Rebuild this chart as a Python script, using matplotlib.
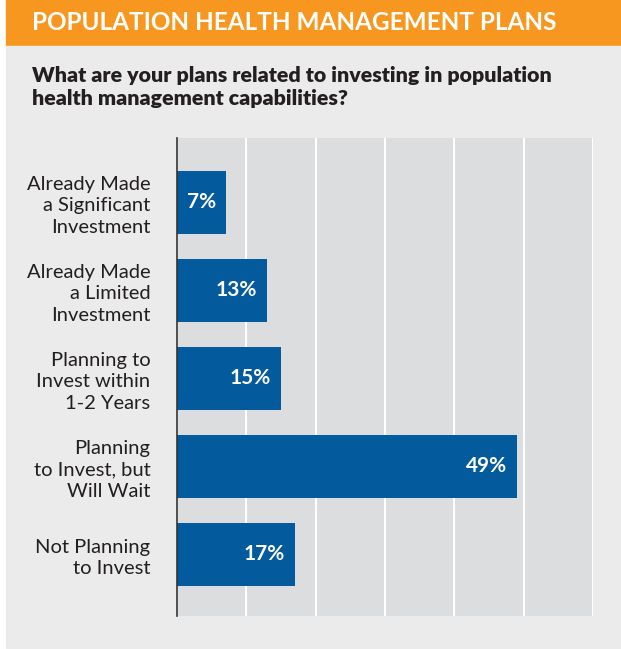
import matplotlib
matplotlib.use("Agg")
import matplotlib.pyplot as plt
from matplotlib.patches import Rectangle

categories = [
    "Already Made\na Significant\nInvestment",
    "Already Made\na Limited\nInvestment",
    "Planning to\nInvest within\n1-2 Years",
    "Planning\nto Invest, but\nWill Wait",
    "Not Planning\nto Invest",
]
values = [7, 13, 15, 49, 17]
value_labels = ["7%", "13%", "15%", "49%", "17%"]

header = "POPULATION HEALTH MANAGEMENT PLANS"
question = "What are your plans related to investing in population\nhealth management capabilities?"

orange = "#F7971F"
panel = "#EBEBEB"
plot_bg = "#DCDDDF"
blue = "#035A9C"

W, H = 621, 649
fig = plt.figure(figsize=(W / 100, H / 100), dpi=100)
fig.patch.set_facecolor("white")

# figure pixel box -> fractions
def px(x0, y0, x1, y1):
    return (x0 / W, 1 - y1 / H, (x1 - x0) / W, (y1 - y0) / H)

l, b, w, h = px(6, 0, 621, 46)
fig.patches.append(Rectangle((l, b), w, h, transform=fig.transFigure, color=orange, zorder=-5))
l, b, w, h = px(6, 46, 621, 648)
fig.patches.append(Rectangle((l, b), w, h, transform=fig.transFigure, color=panel, zorder=-5))

fig.text(32 / W, 1 - 23 / H, header, color="white", fontsize=17.5, fontweight="bold",
         family="Lato", va="center", ha="left")
fig.text(32 / W, 1 - 87 / H, question, color="#231F20", fontsize=15.4, fontweight="heavy",
         family="Lato", va="center", ha="left", linespacing=1.2)

ax = fig.add_axes(px(177, 138, 593, 616))
ax.set_zorder(2)
ax.set_facecolor(plot_bg)
ypos = list(range(len(categories)))
ax.barh(ypos, values, height=0.72, color=blue, zorder=3)
ax.set_xlim(0, 60)
ax.set_ylim(len(categories) - 0.3, -0.73)
ax.set_xticks(range(0, 61, 10))
ax.xaxis.grid(True, color="white", linewidth=1.5, zorder=1)
ax.set_axisbelow(True)
ax.tick_params(axis="x", length=0, labelbottom=False)
ax.tick_params(axis="y", length=0, pad=19)
ax.set_yticks(ypos)
ax.set_yticklabels(categories, fontsize=14.5, family="Lato", color="#231F20",
                   ha="right", linespacing=1.3)
for s in ["top", "right", "bottom"]:
    ax.spines[s].set_visible(False)
ax.spines["left"].set_color("#333333")
ax.spines["left"].set_linewidth(1.2)
ax.spines["left"].set_zorder(4)

for y, v, lab in zip(ypos, values, value_labels):
    ax.text(v - 1.4, y, lab, color="white", fontsize=15, fontweight="bold",
            family="Lato", ha="right", va="center", zorder=5)

fig.savefig("out.png", dpi=100, facecolor=fig.get_facecolor())
